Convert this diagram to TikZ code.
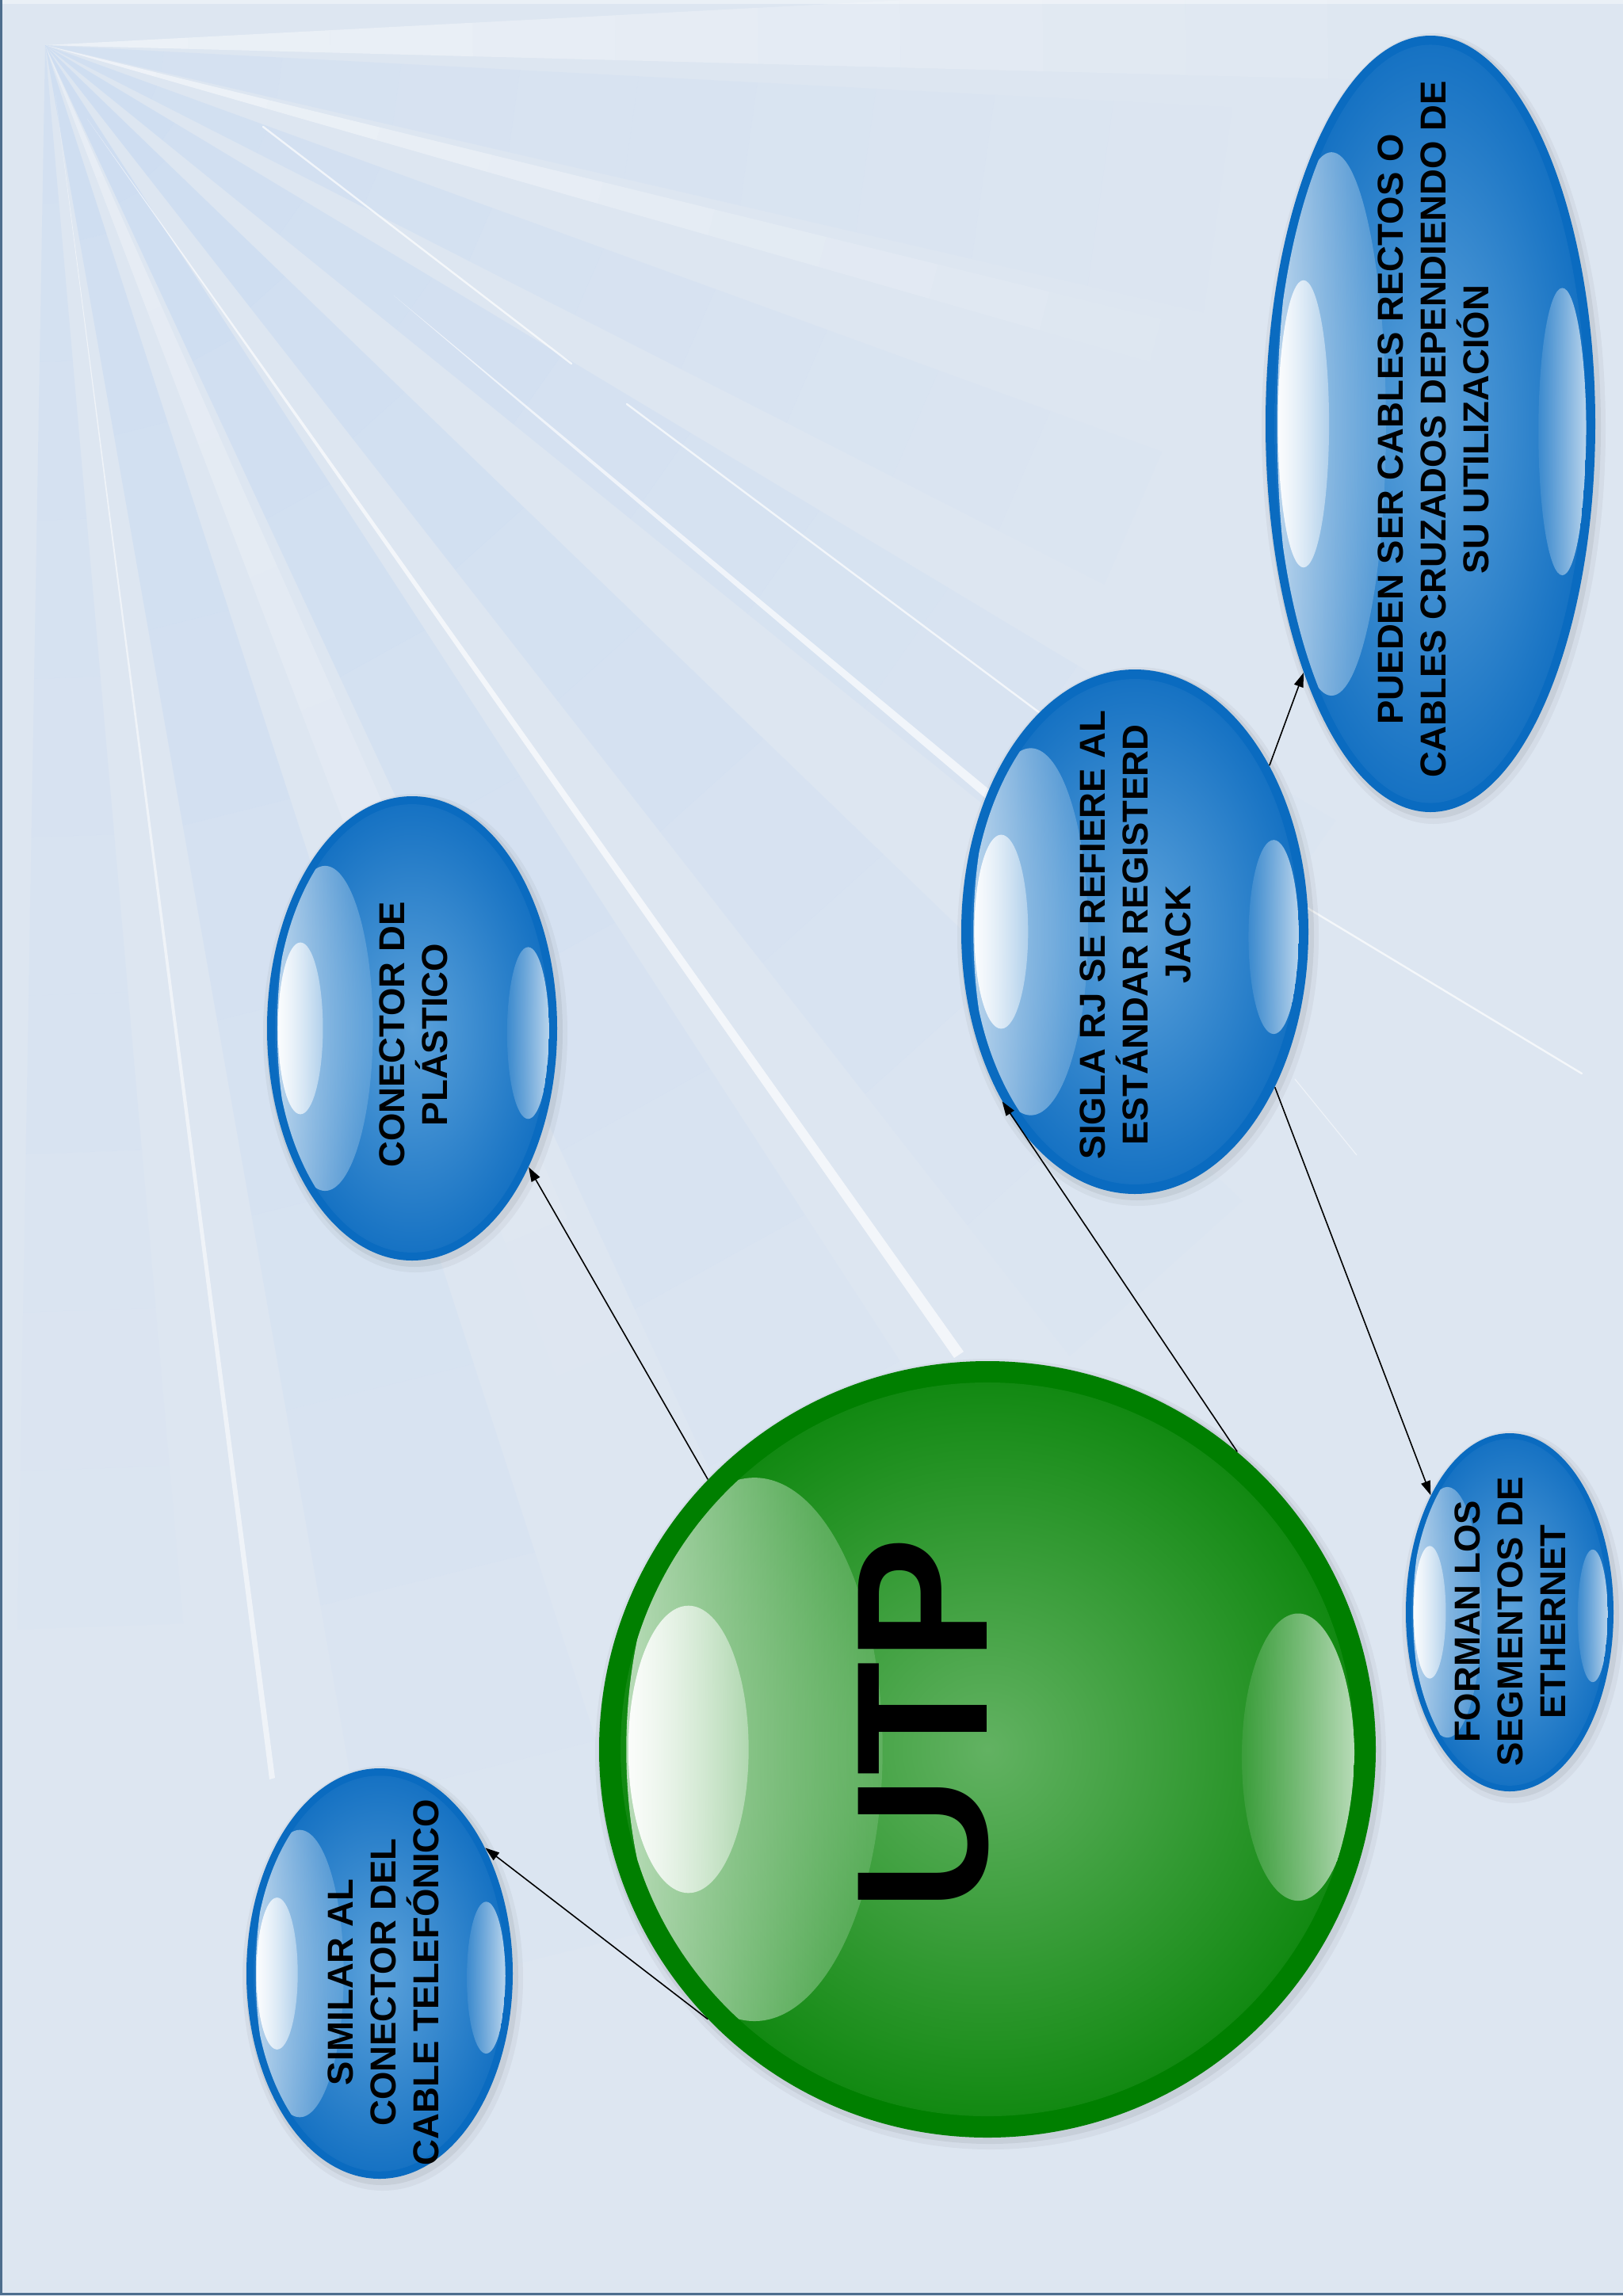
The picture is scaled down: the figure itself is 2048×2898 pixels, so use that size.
\documentclass[tikz,border=0pt]{standalone}
\usepackage{fontspec}
\setmainfont{Liberation Sans}
\usetikzlibrary{shapes.geometric,arrows.meta,fadings}

\definecolor{bg}{HTML}{DDE6F1}
\definecolor{rayblue}{HTML}{BCD4F2}
\definecolor{bring}{HTML}{0A6BC0}
\definecolor{binner}{HTML}{5CA2DB}
\definecolor{bouter}{HTML}{1672C3}
\definecolor{gring}{HTML}{007F00}
\definecolor{ginner}{HTML}{62B262}
\definecolor{gouter}{HTML}{128912}
\definecolor{framec}{HTML}{4D6E8E}

\tikzfading[name=hlbig, left color=transparent!30, right color=transparent!88]
\tikzfading[name=hlsmall, left color=transparent!5, right color=transparent!65]
\tikzfading[name=hlright, left color=transparent!92, right color=transparent!30]

% name, cx, cy, rx, ry, colour prefix
\newcommand\mybubble[6]{%
  \fill[black, opacity=0.04] (#2+4,#3+6) ellipse [x radius={(#4+9)*0.5pt}, y radius={(#5+9)*0.5pt}];
  \fill[black, opacity=0.06] (#2+3,#3+4) ellipse [x radius={(#4+4)*0.5pt}, y radius={(#5+4)*0.5pt}];
  \node[ellipse, inner sep=0pt, fill=#6ring, minimum width=#4pt, minimum height=#5pt] (#1) at (#2,#3) {};
  \pgfmathsetmacro\bt{0.055*min(#4,#5)}%
  \shade[inner color=#6inner, outer color=#6outer] (#2,#3) ellipse [x radius={(#4-\bt)*0.5pt}, y radius={(#5-\bt)*0.5pt}];
  \begin{scope}
    \clip (#2,#3) ellipse [x radius={(#4-\bt)*0.5pt}, y radius={(#5-\bt)*0.5pt}];
    \fill[white, path fading=hlbig] (#2-0.6*#4,#3) ellipse [x radius={0.33*#4*0.5pt}, y radius={0.70*#5*0.5pt}];
    \fill[white, path fading=hlsmall] (#2-0.77*#4,#3) ellipse [x radius={0.155*#4*0.5pt}, y radius={0.37*#5*0.5pt}];
    \fill[white, path fading=hlright] (#2+0.80*#4,#3+0.02*#5) ellipse [x radius={0.145*#4*0.5pt}, y radius={0.37*#5*0.5pt}];
  \end{scope}
}

% a light ray from the apex that fades out: angle a, angle b, length, colour, opacity
\newcommand\myray[5]{%
  \foreach \k in {0,...,9}{%
    \pgfmathsetmacro\ra{#3/10*\k}%
    \pgfmathsetmacro\rb{#3/10*(\k+1)}%
    \pgfmathsetmacro\op{#5*(1-\k/10)}%
    \fill[#4, fill opacity=\op] (57,57) +(#1:\ra) -- +(#1:\rb) -- +(#2:\rb) -- +(#2:\ra) -- cycle;
  }%
}

\begin{document}
\begin{tikzpicture}[x=0.5pt,y=-0.5pt,
  txt/.style={rotate=90, align=center, inner sep=0pt, text=black,
    font=\fontsize{22.75pt}{27pt}\selectfont\bfseries},
  arr/.style={line width=0.8pt, draw=black, -{Triangle[length=9pt,width=6pt]}},
  lineW/.style={draw=white, line cap=round}]
\useasboundingbox (0,0) rectangle (2048,2898);
\fill[bg] (0,0) rectangle (2048,2898);

% light rays from the top-left corner
\coordinate (apex) at (57,57);
\myray{-3}{1.5}{1800}{white}{0.45}
\myray{3}{13}{1500}{rayblue}{0.25}
\myray{13.8}{16}{1450}{white}{0.5}
\myray{20}{27}{1500}{rayblue}{0.35}
\myray{31}{39}{1900}{rayblue}{0.4}
\myray{44}{52}{2100}{rayblue}{0.45}
\myray{57}{65}{2200}{rayblue}{0.45}
\myray{66}{69}{1800}{white}{0.3}
\myray{72}{80}{2500}{rayblue}{0.4}
\myray{85}{91}{2000}{rayblue}{0.3}

\fill[white, opacity=0.55] (70,120) -- (340,2246) -- (347,2244) -- cycle;
\fill[white, opacity=0.65] (110,150) -- (1204,1714) -- (1216,1706) -- cycle;
\draw[lineW, draw opacity=0.7, line width=1.2pt] (332,160) -- (721,459);
\draw[lineW, draw opacity=0.7, line width=1.2pt] (791,510) -- (1307,896) -- (1653,1148) -- (1996,1355);
\fill[white, opacity=0.65] (497,373) -- (1250,998) -- (1244,1008) -- cycle;
\draw[lineW, line width=0.6pt, draw opacity=0.5] (1634,1362) -- (1712,1458);

% frame
\fill[white, opacity=0.4] (0,0) rectangle (2048,5);
\draw[framec, line width=1.5pt] (1.5,0) -- (1.5,2895) -- (2048,2895);

% bubbles
\mybubble{pue}{1805}{535}{208}{490}{b}
\mybubble{sig}{1432}{1176}{219}{331}{b}
\mybubble{con}{520}{1298}{183}{293}{b}
\mybubble{sim}{479}{2491}{168}{259}{b}
\mybubble{for}{1905}{2035}{131}{226}{b}
\mybubble{utp}{1246}{2208}{490}{490}{g}

% texts
\node[txt] (pueT) at (1809,542) {PUEDEN SER CABLES RECTOS O\\CABLES CRUZADOS DEPENDIENDO DE\\SU UTILIZACIÓN};
\node[txt] (sigT) at (1433,1180) {SIGLA RJ SE REFIERE AL\\ESTÁNDAR REGISTERD\\JACK};
\node[txt] (conT) at (522,1306) {CONECTOR DE\\PLÁSTICO};
\node[txt] (simT) at (484,2502) {SIMILAR AL\\CONECTOR DEL\\CABLE TELEFÓNICO};
\node[txt] (forT) at (1906,2047) {FORMAN LOS\\SEGMENTOS DE\\ETHERNET};
\node[rotate=90, inner sep=0pt, text=black, font=\fontsize{118pt}{118pt}\selectfont\bfseries] (utpT) at (1165,2176) {UTP};

% connectors
\draw[arr] (utp.136) -- (con.-50);
\draw[arr] (utp.50) -- (sig.-128);
\draw[arr] (sig.-48) -- (for.124);
\draw[arr] (sig.51) -- (pue.-117);
\draw[arr] (utp.224) -- (sim.50);
\end{tikzpicture}
\end{document}
